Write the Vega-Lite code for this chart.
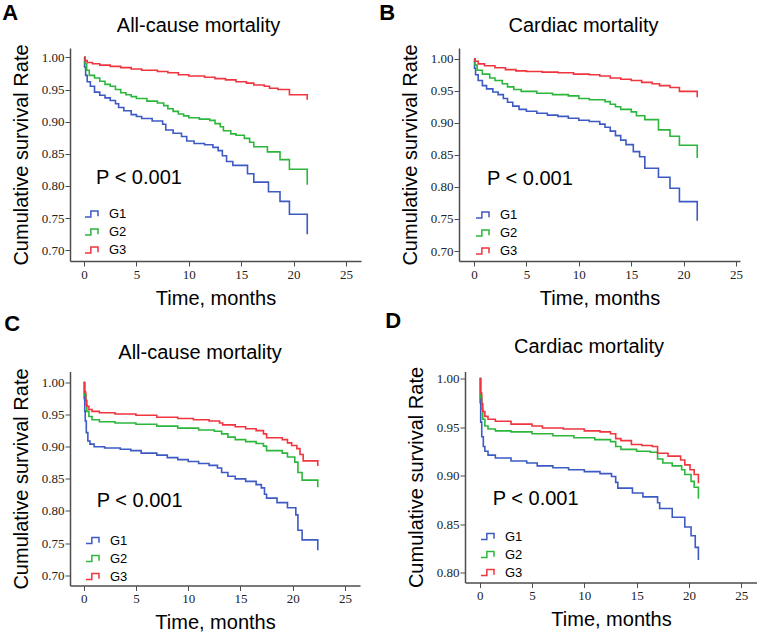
{
  "$schema": "https://vega.github.io/schema/vega-lite/v6.json",
  "padding": {"left": 2, "top": 1, "right": 0, "bottom": 0},
  "background": "white",
  "datasets": {
    "A": [
      {"g":"G1","t":0,"s":1.000},{"g":"G1","t":0.05,"s":0.985},{"g":"G1","t":0.15,"s":0.972},{"g":"G1","t":0.3,"s":0.962},{"g":"G1","t":0.6,"s":0.955},{"g":"G1","t":1.0,"s":0.946},{"g":"G1","t":1.5,"s":0.941},{"g":"G1","t":2.0,"s":0.937},{"g":"G1","t":2.5,"s":0.933},{"g":"G1","t":3.0,"s":0.928},{"g":"G1","t":3.3,"s":0.922},{"g":"G1","t":3.8,"s":0.917},{"g":"G1","t":4.5,"s":0.911},{"g":"G1","t":5.0,"s":0.908},{"g":"G1","t":5.5,"s":0.905},{"g":"G1","t":6.5,"s":0.901},{"g":"G1","t":7.5,"s":0.896},{"g":"G1","t":7.8,"s":0.887},{"g":"G1","t":8.5,"s":0.882},{"g":"G1","t":9.3,"s":0.877},{"g":"G1","t":9.8,"s":0.870},{"g":"G1","t":10.5,"s":0.866},{"g":"G1","t":11.5,"s":0.864},{"g":"G1","t":12.3,"s":0.860},{"g":"G1","t":12.8,"s":0.855},{"g":"G1","t":13.2,"s":0.847},{"g":"G1","t":13.6,"s":0.838},{"g":"G1","t":14.2,"s":0.832},{"g":"G1","t":15.6,"s":0.819},{"g":"G1","t":16.2,"s":0.806},{"g":"G1","t":17.6,"s":0.791},{"g":"G1","t":18.7,"s":0.776},{"g":"G1","t":19.6,"s":0.756},{"g":"G1","t":21.3,"s":0.756},{"g":"G1","t":21.3,"s":0.725},
      {"g":"G2","t":0,"s":1.000},{"g":"G2","t":0.1,"s":0.990},{"g":"G2","t":0.25,"s":0.980},{"g":"G2","t":0.5,"s":0.972},{"g":"G2","t":1.0,"s":0.968},{"g":"G2","t":1.5,"s":0.963},{"g":"G2","t":2.0,"s":0.958},{"g":"G2","t":2.5,"s":0.955},{"g":"G2","t":3.0,"s":0.950},{"g":"G2","t":3.5,"s":0.945},{"g":"G2","t":4.0,"s":0.942},{"g":"G2","t":4.5,"s":0.939},{"g":"G2","t":5.0,"s":0.936},{"g":"G2","t":6.0,"s":0.932},{"g":"G2","t":7.0,"s":0.929},{"g":"G2","t":7.6,"s":0.925},{"g":"G2","t":8.0,"s":0.920},{"g":"G2","t":8.5,"s":0.916},{"g":"G2","t":9.0,"s":0.912},{"g":"G2","t":9.5,"s":0.909},{"g":"G2","t":10.0,"s":0.906},{"g":"G2","t":11.0,"s":0.904},{"g":"G2","t":12.0,"s":0.902},{"g":"G2","t":12.5,"s":0.897},{"g":"G2","t":13.0,"s":0.892},{"g":"G2","t":13.3,"s":0.886},{"g":"G2","t":14.0,"s":0.881},{"g":"G2","t":14.5,"s":0.879},{"g":"G2","t":15.3,"s":0.874},{"g":"G2","t":15.8,"s":0.868},{"g":"G2","t":16.2,"s":0.861},{"g":"G2","t":17.5,"s":0.853},{"g":"G2","t":18.7,"s":0.841},{"g":"G2","t":19.6,"s":0.826},{"g":"G2","t":21.3,"s":0.826},{"g":"G2","t":21.3,"s":0.802},
      {"g":"G3","t":0,"s":1.000},{"g":"G3","t":0.1,"s":0.995},{"g":"G3","t":0.3,"s":0.992},{"g":"G3","t":0.8,"s":0.990},{"g":"G3","t":1.5,"s":0.988},{"g":"G3","t":2.5,"s":0.986},{"g":"G3","t":3.5,"s":0.984},{"g":"G3","t":4.5,"s":0.982},{"g":"G3","t":5.5,"s":0.980},{"g":"G3","t":7.0,"s":0.978},{"g":"G3","t":8.0,"s":0.976},{"g":"G3","t":9.0,"s":0.973},{"g":"G3","t":10.0,"s":0.971},{"g":"G3","t":11.5,"s":0.969},{"g":"G3","t":12.5,"s":0.967},{"g":"G3","t":13.5,"s":0.965},{"g":"G3","t":14.5,"s":0.962},{"g":"G3","t":15.5,"s":0.960},{"g":"G3","t":16.2,"s":0.957},{"g":"G3","t":17.2,"s":0.955},{"g":"G3","t":17.7,"s":0.952},{"g":"G3","t":18.5,"s":0.950},{"g":"G3","t":19.6,"s":0.942},{"g":"G3","t":21.3,"s":0.942},{"g":"G3","t":21.3,"s":0.934}
    ],
    "B": [
      {"g":"G1","t":0,"s":1.000},{"g":"G1","t":0.05,"s":0.985},{"g":"G1","t":0.15,"s":0.975},{"g":"G1","t":0.4,"s":0.966},{"g":"G1","t":0.8,"s":0.958},{"g":"G1","t":1.2,"s":0.953},{"g":"G1","t":1.8,"s":0.948},{"g":"G1","t":2.3,"s":0.944},{"g":"G1","t":2.8,"s":0.938},{"g":"G1","t":3.2,"s":0.932},{"g":"G1","t":3.7,"s":0.926},{"g":"G1","t":4.3,"s":0.921},{"g":"G1","t":5.0,"s":0.918},{"g":"G1","t":6.0,"s":0.915},{"g":"G1","t":7.0,"s":0.912},{"g":"G1","t":8.0,"s":0.910},{"g":"G1","t":9.0,"s":0.907},{"g":"G1","t":10.0,"s":0.904},{"g":"G1","t":11.0,"s":0.902},{"g":"G1","t":12.0,"s":0.898},{"g":"G1","t":12.5,"s":0.893},{"g":"G1","t":13.0,"s":0.887},{"g":"G1","t":13.5,"s":0.880},{"g":"G1","t":14.0,"s":0.873},{"g":"G1","t":14.5,"s":0.866},{"g":"G1","t":15.2,"s":0.855},{"g":"G1","t":15.8,"s":0.847},{"g":"G1","t":16.3,"s":0.829},{"g":"G1","t":17.6,"s":0.815},{"g":"G1","t":18.7,"s":0.798},{"g":"G1","t":19.6,"s":0.777},{"g":"G1","t":21.3,"s":0.777},{"g":"G1","t":21.3,"s":0.747},
      {"g":"G2","t":0,"s":1.000},{"g":"G2","t":0.1,"s":0.990},{"g":"G2","t":0.3,"s":0.982},{"g":"G2","t":0.8,"s":0.976},{"g":"G2","t":1.5,"s":0.970},{"g":"G2","t":2.0,"s":0.966},{"g":"G2","t":2.7,"s":0.961},{"g":"G2","t":3.2,"s":0.956},{"g":"G2","t":3.8,"s":0.952},{"g":"G2","t":4.5,"s":0.949},{"g":"G2","t":6.0,"s":0.946},{"g":"G2","t":7.5,"s":0.944},{"g":"G2","t":9.0,"s":0.942},{"g":"G2","t":10.0,"s":0.938},{"g":"G2","t":11.0,"s":0.936},{"g":"G2","t":12.5,"s":0.933},{"g":"G2","t":13.0,"s":0.929},{"g":"G2","t":13.5,"s":0.925},{"g":"G2","t":14.0,"s":0.921},{"g":"G2","t":15.0,"s":0.917},{"g":"G2","t":15.5,"s":0.911},{"g":"G2","t":16.3,"s":0.905},{"g":"G2","t":17.6,"s":0.889},{"g":"G2","t":18.7,"s":0.879},{"g":"G2","t":19.6,"s":0.865},{"g":"G2","t":21.3,"s":0.865},{"g":"G2","t":21.3,"s":0.845},
      {"g":"G3","t":0,"s":1.000},{"g":"G3","t":0.1,"s":0.996},{"g":"G3","t":0.4,"s":0.992},{"g":"G3","t":1.0,"s":0.989},{"g":"G3","t":2.0,"s":0.986},{"g":"G3","t":3.0,"s":0.983},{"g":"G3","t":4.0,"s":0.981},{"g":"G3","t":5.0,"s":0.980},{"g":"G3","t":6.5,"s":0.979},{"g":"G3","t":8.0,"s":0.978},{"g":"G3","t":9.5,"s":0.976},{"g":"G3","t":11.0,"s":0.975},{"g":"G3","t":12.0,"s":0.973},{"g":"G3","t":13.0,"s":0.970},{"g":"G3","t":14.0,"s":0.968},{"g":"G3","t":15.0,"s":0.966},{"g":"G3","t":16.0,"s":0.963},{"g":"G3","t":17.0,"s":0.961},{"g":"G3","t":17.7,"s":0.958},{"g":"G3","t":18.7,"s":0.955},{"g":"G3","t":19.6,"s":0.949},{"g":"G3","t":21.3,"s":0.949},{"g":"G3","t":21.3,"s":0.940}
    ],
    "C": [
      {"g":"G1","t":0,"s":1.000},{"g":"G1","t":0.05,"s":0.975},{"g":"G1","t":0.1,"s":0.955},{"g":"G1","t":0.15,"s":0.940},{"g":"G1","t":0.25,"s":0.922},{"g":"G1","t":0.4,"s":0.909},{"g":"G1","t":0.6,"s":0.904},{"g":"G1","t":1.0,"s":0.900},{"g":"G1","t":2.0,"s":0.898},{"g":"G1","t":3.5,"s":0.896},{"g":"G1","t":4.5,"s":0.894},{"g":"G1","t":5.5,"s":0.890},{"g":"G1","t":7.0,"s":0.887},{"g":"G1","t":8.0,"s":0.883},{"g":"G1","t":9.0,"s":0.880},{"g":"G1","t":10.0,"s":0.877},{"g":"G1","t":11.0,"s":0.874},{"g":"G1","t":12.0,"s":0.871},{"g":"G1","t":12.8,"s":0.867},{"g":"G1","t":13.2,"s":0.860},{"g":"G1","t":13.8,"s":0.854},{"g":"G1","t":14.5,"s":0.850},{"g":"G1","t":15.5,"s":0.846},{"g":"G1","t":16.5,"s":0.841},{"g":"G1","t":17.0,"s":0.836},{"g":"G1","t":17.3,"s":0.826},{"g":"G1","t":17.5,"s":0.820},{"g":"G1","t":18.5,"s":0.813},{"g":"G1","t":19.5,"s":0.805},{"g":"G1","t":20.3,"s":0.794},{"g":"G1","t":20.5,"s":0.770},{"g":"G1","t":20.9,"s":0.755},{"g":"G1","t":22.4,"s":0.755},{"g":"G1","t":22.4,"s":0.739},
      {"g":"G2","t":0,"s":1.000},{"g":"G2","t":0.1,"s":0.980},{"g":"G2","t":0.2,"s":0.965},{"g":"G2","t":0.3,"s":0.955},{"g":"G2","t":0.5,"s":0.947},{"g":"G2","t":0.8,"s":0.942},{"g":"G2","t":1.5,"s":0.939},{"g":"G2","t":3.0,"s":0.937},{"g":"G2","t":5.0,"s":0.935},{"g":"G2","t":7.0,"s":0.932},{"g":"G2","t":9.0,"s":0.929},{"g":"G2","t":11.0,"s":0.926},{"g":"G2","t":12.5,"s":0.924},{"g":"G2","t":13.2,"s":0.920},{"g":"G2","t":13.8,"s":0.915},{"g":"G2","t":14.5,"s":0.911},{"g":"G2","t":15.5,"s":0.908},{"g":"G2","t":16.5,"s":0.905},{"g":"G2","t":17.2,"s":0.901},{"g":"G2","t":17.5,"s":0.894},{"g":"G2","t":19.0,"s":0.890},{"g":"G2","t":19.5,"s":0.884},{"g":"G2","t":20.2,"s":0.876},{"g":"G2","t":20.5,"s":0.860},{"g":"G2","t":20.9,"s":0.848},{"g":"G2","t":22.4,"s":0.848},{"g":"G2","t":22.4,"s":0.837},
      {"g":"G3","t":0,"s":1.000},{"g":"G3","t":0.1,"s":0.985},{"g":"G3","t":0.2,"s":0.972},{"g":"G3","t":0.3,"s":0.963},{"g":"G3","t":0.5,"s":0.958},{"g":"G3","t":0.8,"s":0.955},{"g":"G3","t":1.5,"s":0.953},{"g":"G3","t":3.0,"s":0.951},{"g":"G3","t":5.0,"s":0.949},{"g":"G3","t":7.0,"s":0.946},{"g":"G3","t":9.0,"s":0.944},{"g":"G3","t":10.5,"s":0.942},{"g":"G3","t":12.0,"s":0.940},{"g":"G3","t":13.0,"s":0.937},{"g":"G3","t":13.3,"s":0.934},{"g":"G3","t":14.5,"s":0.931},{"g":"G3","t":15.5,"s":0.928},{"g":"G3","t":16.5,"s":0.925},{"g":"G3","t":17.2,"s":0.920},{"g":"G3","t":17.5,"s":0.914},{"g":"G3","t":19.0,"s":0.911},{"g":"G3","t":19.5,"s":0.906},{"g":"G3","t":19.9,"s":0.902},{"g":"G3","t":20.4,"s":0.897},{"g":"G3","t":20.7,"s":0.888},{"g":"G3","t":21.0,"s":0.878},{"g":"G3","t":22.4,"s":0.878},{"g":"G3","t":22.4,"s":0.870}
    ],
    "D": [
      {"g":"G1","t":0,"s":1.000},{"g":"G1","t":0.05,"s":0.975},{"g":"G1","t":0.1,"s":0.955},{"g":"G1","t":0.2,"s":0.940},{"g":"G1","t":0.35,"s":0.930},{"g":"G1","t":0.5,"s":0.925},{"g":"G1","t":0.8,"s":0.921},{"g":"G1","t":1.5,"s":0.918},{"g":"G1","t":3.0,"s":0.915},{"g":"G1","t":4.5,"s":0.913},{"g":"G1","t":5.5,"s":0.910},{"g":"G1","t":7.0,"s":0.908},{"g":"G1","t":8.5,"s":0.906},{"g":"G1","t":10.0,"s":0.904},{"g":"G1","t":11.5,"s":0.902},{"g":"G1","t":12.6,"s":0.899},{"g":"G1","t":13.0,"s":0.893},{"g":"G1","t":13.2,"s":0.887},{"g":"G1","t":14.6,"s":0.882},{"g":"G1","t":15.6,"s":0.878},{"g":"G1","t":17.0,"s":0.872},{"g":"G1","t":17.2,"s":0.866},{"g":"G1","t":18.4,"s":0.857},{"g":"G1","t":19.6,"s":0.847},{"g":"G1","t":20.2,"s":0.838},{"g":"G1","t":20.6,"s":0.826},{"g":"G1","t":20.9,"s":0.826},{"g":"G1","t":20.9,"s":0.813},
      {"g":"G2","t":0,"s":1.000},{"g":"G2","t":0.1,"s":0.980},{"g":"G2","t":0.2,"s":0.968},{"g":"G2","t":0.3,"s":0.958},{"g":"G2","t":0.5,"s":0.951},{"g":"G2","t":0.8,"s":0.948},{"g":"G2","t":1.5,"s":0.946},{"g":"G2","t":3.0,"s":0.945},{"g":"G2","t":5.0,"s":0.943},{"g":"G2","t":7.0,"s":0.941},{"g":"G2","t":9.0,"s":0.939},{"g":"G2","t":11.0,"s":0.937},{"g":"G2","t":12.5,"s":0.935},{"g":"G2","t":13.0,"s":0.930},{"g":"G2","t":13.5,"s":0.927},{"g":"G2","t":15.0,"s":0.925},{"g":"G2","t":16.3,"s":0.924},{"g":"G2","t":17.0,"s":0.917},{"g":"G2","t":17.5,"s":0.913},{"g":"G2","t":18.4,"s":0.910},{"g":"G2","t":19.3,"s":0.906},{"g":"G2","t":19.6,"s":0.901},{"g":"G2","t":20.2,"s":0.894},{"g":"G2","t":20.5,"s":0.888},{"g":"G2","t":20.9,"s":0.888},{"g":"G2","t":20.9,"s":0.876},
      {"g":"G3","t":0,"s":1.000},{"g":"G3","t":0.1,"s":0.985},{"g":"G3","t":0.2,"s":0.974},{"g":"G3","t":0.3,"s":0.966},{"g":"G3","t":0.5,"s":0.961},{"g":"G3","t":0.8,"s":0.958},{"g":"G3","t":1.5,"s":0.956},{"g":"G3","t":3.0,"s":0.953},{"g":"G3","t":5.0,"s":0.951},{"g":"G3","t":6.0,"s":0.949},{"g":"G3","t":8.0,"s":0.948},{"g":"G3","t":10.0,"s":0.946},{"g":"G3","t":11.5,"s":0.945},{"g":"G3","t":12.5,"s":0.943},{"g":"G3","t":13.0,"s":0.938},{"g":"G3","t":13.5,"s":0.936},{"g":"G3","t":14.5,"s":0.932},{"g":"G3","t":15.5,"s":0.931},{"g":"G3","t":16.5,"s":0.930},{"g":"G3","t":17.0,"s":0.923},{"g":"G3","t":18.0,"s":0.920},{"g":"G3","t":19.2,"s":0.916},{"g":"G3","t":19.6,"s":0.911},{"g":"G3","t":20.1,"s":0.906},{"g":"G3","t":20.5,"s":0.901},{"g":"G3","t":20.9,"s":0.901},{"g":"G3","t":20.9,"s":0.892}
    ]
  },
  "resolve": {"scale": {"color": "independent"}, "legend": {"color": "independent"}},
  "spacing": 1.5,
  "vconcat": [
    {
      "hconcat": [
        {
          "title": {"text": "A", "anchor": "start", "offset": -9, "dx": -9, "fontSize": 22, "fontWeight": "bold"},
          "vconcat": [
            {
              "width": 291, "height": 213,
              "title": {"text": "All-cause mortality", "offset": 8, "dx": -17},
              "layer": [
                {
                  "data": {"name": "A"},
                  "mark": {"type": "line", "interpolate": "step-after", "strokeWidth": 1.6},
                  "encoding": {
                    "x": {"field": "t", "type": "quantitative", "scale": {"domain": [-1.34, 26.43], "nice": false, "zero": false}, "axis": {"title": "Time, months", "values": [0, 5, 10, 15, 20, 25], "labelFont": "Liberation Serif"}},
                    "y": {"field": "s", "type": "quantitative", "scale": {"domain": [0.6833, 1.0146], "nice": false, "zero": false}, "axis": {"title": "Cumulative survival Rate", "values": [0.7, 0.75, 0.8, 0.85, 0.9, 0.95, 1.0], "format": ".2f", "labelFont": "Liberation Serif"}},
                    "color": {"field": "g", "type": "nominal", "scale": {"domain": ["G1", "G2", "G3"], "range": ["#3d5ac4", "#2db63c", "#f0353f"]}, "legend": {"legendX": 14, "legendY": 158.5}}
                  }
                },
                {
                  "data": {"values": [{"label": "P < 0.001"}]},
                  "mark": {"type": "text", "align": "left", "baseline": "alphabetic", "fontSize": 20, "font": "Liberation Sans", "color": "#000"},
                  "encoding": {
                    "text": {"field": "label"},
                    "x": {"datum": 1.15, "type": "quantitative", "scale": {"domain": [-1.34, 26.43], "nice": false, "zero": false}, "axis": {"title": "Time, months", "values": [0, 5, 10, 15, 20, 25], "labelFont": "Liberation Serif"}},
                    "y": {"datum": 0.803, "type": "quantitative", "scale": {"domain": [0.6833, 1.0146], "nice": false, "zero": false}, "axis": {"title": "Cumulative survival Rate", "values": [0.7, 0.75, 0.8, 0.85, 0.9, 0.95, 1.0], "format": ".2f", "labelFont": "Liberation Serif"}}
                  }
                }
              ]
            }
          ]
        },
        {
          "title": {"text": "B", "anchor": "start", "offset": -9, "dx": -21, "fontSize": 22, "fontWeight": "bold"},
          "vconcat": [
            {
              "width": 281, "height": 213,
              "title": {"text": "Cardiac mortality", "offset": 8, "dx": -16},
              "layer": [
                {
                  "data": {"name": "B"},
                  "mark": {"type": "line", "interpolate": "step-after", "strokeWidth": 1.6},
                  "encoding": {
                    "x": {"field": "t", "type": "quantitative", "scale": {"domain": [-1.43, 25.38], "nice": false, "zero": false}, "axis": {"title": "Time, months", "values": [0, 5, 10, 15, 20, 25], "labelFont": "Liberation Serif"}},
                    "y": {"field": "s", "type": "quantitative", "scale": {"domain": [0.6844, 1.0167], "nice": false, "zero": false}, "axis": {"title": "Cumulative survival Rate", "values": [0.7, 0.75, 0.8, 0.85, 0.9, 0.95, 1.0], "format": ".2f", "labelFont": "Liberation Serif"}},
                    "color": {"field": "g", "type": "nominal", "scale": {"domain": ["G1", "G2", "G3"], "range": ["#3d5ac4", "#2db63c", "#f0353f"]}, "legend": {"legendX": 16, "legendY": 159.5}}
                  }
                },
                {
                  "data": {"values": [{"label": "P < 0.001"}]},
                  "mark": {"type": "text", "align": "left", "baseline": "alphabetic", "fontSize": 20, "font": "Liberation Sans", "color": "#000"},
                  "encoding": {
                    "text": {"field": "label"},
                    "x": {"datum": 1.24, "type": "quantitative", "scale": {"domain": [-1.43, 25.38], "nice": false, "zero": false}, "axis": {"title": "Time, months", "values": [0, 5, 10, 15, 20, 25], "labelFont": "Liberation Serif"}},
                    "y": {"datum": 0.803, "type": "quantitative", "scale": {"domain": [0.6844, 1.0167], "nice": false, "zero": false}, "axis": {"title": "Cumulative survival Rate", "values": [0.7, 0.75, 0.8, 0.85, 0.9, 0.95, 1.0], "format": ".2f", "labelFont": "Liberation Serif"}}
                  }
                }
              ]
            }
          ]
        }
      ],
      "spacing": 18,
      "resolve": {"scale": {"color": "independent"}, "legend": {"color": "independent"}}
    },
    {
      "hconcat": [
        {
          "title": {"text": "C", "anchor": "start", "offset": 7, "dx": -7, "fontSize": 22, "fontWeight": "bold"},
          "vconcat": [
            {
              "width": 290, "height": 214,
              "title": {"text": "All-cause mortality", "offset": 4.5, "dx": -15},
              "layer": [
                {
                  "data": {"name": "C"},
                  "mark": {"type": "line", "interpolate": "step-after", "strokeWidth": 1.6},
                  "encoding": {
                    "x": {"field": "t", "type": "quantitative", "scale": {"domain": [-1.31, 26.44], "nice": false, "zero": false}, "axis": {"title": "Time, months", "values": [0, 5, 10, 15, 20, 25], "labelFont": "Liberation Serif"}},
                    "y": {"field": "s", "type": "quantitative", "scale": {"domain": [0.684, 1.0171], "nice": false, "zero": false}, "axis": {"title": "Cumulative survival Rate", "values": [0.7, 0.75, 0.8, 0.85, 0.9, 0.95, 1.0], "format": ".2f", "labelFont": "Liberation Serif"}},
                    "color": {"field": "g", "type": "nominal", "scale": {"domain": ["G1", "G2", "G3"], "range": ["#3d5ac4", "#2db63c", "#f0353f"]}, "legend": {"legendX": 15, "legendY": 161.5}}
                  }
                },
                {
                  "data": {"values": [{"label": "P < 0.001"}]},
                  "mark": {"type": "text", "align": "left", "baseline": "alphabetic", "fontSize": 20, "font": "Liberation Sans", "color": "#000"},
                  "encoding": {
                    "text": {"field": "label"},
                    "x": {"datum": 1.25, "type": "quantitative", "scale": {"domain": [-1.31, 26.44], "nice": false, "zero": false}, "axis": {"title": "Time, months", "values": [0, 5, 10, 15, 20, 25], "labelFont": "Liberation Serif"}},
                    "y": {"datum": 0.806, "type": "quantitative", "scale": {"domain": [0.684, 1.0171], "nice": false, "zero": false}, "axis": {"title": "Cumulative survival Rate", "values": [0.7, 0.75, 0.8, 0.85, 0.9, 0.95, 1.0], "format": ".2f", "labelFont": "Liberation Serif"}}
                  }
                }
              ]
            }
          ]
        },
        {
          "title": {"text": "D", "anchor": "start", "offset": 4, "dx": -21, "fontSize": 22, "fontWeight": "bold"},
          "vconcat": [
            {
              "width": 292, "height": 211,
              "title": {"text": "Cardiac mortality", "offset": 9.5, "dx": -22},
              "layer": [
                {
                  "data": {"name": "D"},
                  "mark": {"type": "line", "interpolate": "step-after", "strokeWidth": 1.6},
                  "encoding": {
                    "x": {"field": "t", "type": "quantitative", "scale": {"domain": [-1.4, 26.5], "nice": false, "zero": false}, "axis": {"title": "Time, months", "values": [0, 5, 10, 15, 20, 25], "labelFont": "Liberation Serif"}},
                    "y": {"field": "s", "type": "quantitative", "scale": {"domain": [0.7898, 1.0072], "nice": false, "zero": false}, "axis": {"title": "Cumulative survival Rate", "values": [0.8, 0.85, 0.9, 0.95, 1.0], "format": ".2f", "labelFont": "Liberation Serif"}},
                    "color": {"field": "g", "type": "nominal", "scale": {"domain": ["G1", "G2", "G3"], "range": ["#3d5ac4", "#2db63c", "#f0353f"]}, "legend": {"legendX": 15, "legendY": 157.5}}
                  }
                },
                {
                  "data": {"values": [{"label": "P < 0.001"}]},
                  "mark": {"type": "text", "align": "left", "baseline": "alphabetic", "fontSize": 20, "font": "Liberation Sans", "color": "#000"},
                  "encoding": {
                    "text": {"field": "label"},
                    "x": {"datum": 1.25, "type": "quantitative", "scale": {"domain": [-1.4, 26.5], "nice": false, "zero": false}, "axis": {"title": "Time, months", "values": [0, 5, 10, 15, 20, 25], "labelFont": "Liberation Serif"}},
                    "y": {"datum": 0.870, "type": "quantitative", "scale": {"domain": [0.7898, 1.0072], "nice": false, "zero": false}, "axis": {"title": "Cumulative survival Rate", "values": [0.8, 0.85, 0.9, 0.95, 1.0], "format": ".2f", "labelFont": "Liberation Serif"}}
                  }
                }
              ]
            }
          ]
        }
      ],
      "spacing": 25,
      "resolve": {"scale": {"color": "independent"}, "legend": {"color": "independent"}}
    }
  ],
  "config": {
    "view": {"stroke": null},
    "title": {"font": "Liberation Sans", "color": "#000", "fontSize": 20, "fontWeight": "normal", "anchor": "middle"},
    "axis": {"grid": false, "domainColor": "#4d4d4d", "domainWidth": 1.5, "tickColor": "#4d4d4d", "tickWidth": 1, "tickSize": 5, "labelFont": "Liberation Serif", "labelFontSize": 13, "labelColor": "#222", "labelPadding": 2, "titleFont": "Liberation Sans", "titleFontSize": 20, "titleFontWeight": "normal", "titleColor": "#000"},
    "axisX": {"titlePadding": 7},
    "axisY": {"titlePadding": 10, "labelPadding": 1},
    "legend": {"orient": "none", "title": null, "symbolType": "M-1,0.45H-0.1V-0.45H1V0.35", "symbolSize": 169, "symbolStrokeWidth": 1.5, "symbolFillColor": "transparent", "labelFont": "Liberation Sans", "labelFontSize": 13, "labelColor": "#000", "labelOffset": 10, "rowPadding": 3, "padding": 0}
  }
}
